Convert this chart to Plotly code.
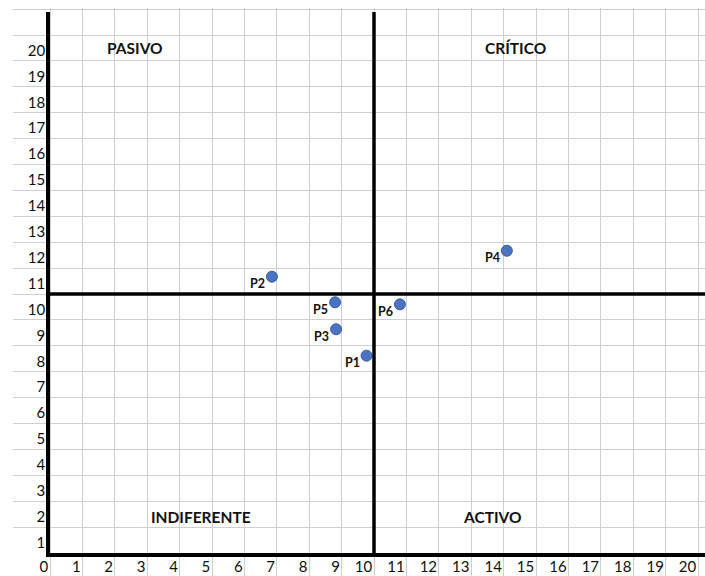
import plotly.graph_objects as go

# ---------------- data ----------------
point_names = ["P1", "P2", "P3", "P4", "P5", "P6"]
x_values = [9.77, 6.85, 8.83, 14.10, 8.80, 10.80]
y_values = [7.62, 10.67, 8.64, 11.67, 9.68, 9.60]

x_tick_values = list(range(0, 21))
y_tick_values = list(range(1, 21))
x_tick_labels = [str(v) for v in x_tick_values]
y_tick_labels = [str(v) for v in y_tick_values]

x_threshold = 10
y_threshold = 10

quadrant_names = ["PASIVO", "CRÍTICO", "INDIFERENTE", "ACTIVO"]
quadrant_label_x = [2.62, 14.38, 4.66, 13.67]
quadrant_label_y = [19.5, 19.5, 1.39, 1.39]

# ---------------- geometry / style ----------------
W, H = 705, 576
AX_LEFT_PX = 50      # pixel x of the vertical axis
AX_BOTTOM_PX = 553   # pixel y (from top) of the horizontal axis
AX_TOP_PX = 12
GRID_LEFT_PX = 13
GRID_TOP_PX = 8
SX = 32.4            # pixels per x unit
SY = 25.9            # pixels per y unit

FONT = "Lato"
GRID_COLOR = "#cfcfcf"
MARKER_COLOR = "#4a73c2"

x_max = (W - AX_LEFT_PX) / SX
y_max = (AX_BOTTOM_PX - AX_TOP_PX) / SY

fig = go.Figure()

# invisible trace to anchor the background grid subplot
fig.add_trace(go.Scatter(x=[None], y=[None], xaxis="x", yaxis="y",
                         showlegend=False, hoverinfo="skip"))

# data points
fig.add_trace(go.Scatter(
    x=x_values, y=y_values, xaxis="x2", yaxis="y2",
    mode="markers", text=point_names, showlegend=False,
    marker=dict(size=11, color=MARKER_COLOR,
                line=dict(color="#3a5e9e", width=1)),
))

# quadrant dividing lines
fig.add_shape(type="line", xref="x2", yref="y2",
              x0=x_threshold, x1=x_threshold, y0=0, y1=y_max,
              line=dict(color="black", width=3.5))
fig.add_shape(type="line", xref="x2", yref="y2",
              x0=0, x1=x_max, y0=y_threshold, y1=y_threshold,
              line=dict(color="black", width=3.5))

annotations = []
for name, qx, qy in zip(quadrant_names, quadrant_label_x, quadrant_label_y):
    annotations.append(dict(
        x=qx, y=qy, xref="x2", yref="y2", text="<b>%s</b>" % name,
        showarrow=False, xanchor="center", yanchor="middle",
        font=dict(family=FONT, size=15.5, color="#111111")))
for name, px, py in zip(point_names, x_values, y_values):
    annotations.append(dict(
        x=px, y=py, xref="x2", yref="y2", text="<b>%s</b>" % name,
        showarrow=False, xanchor="right", yanchor="middle",
        xshift=-5, yshift=-7,
        font=dict(family=FONT, size=12.5, color="#111111")))

fig.update_layout(
    width=W, height=H,
    margin=dict(l=0, r=0, t=0, b=0, pad=0, autoexpand=False),
    paper_bgcolor="white", plot_bgcolor="rgba(0,0,0,0)",
    showlegend=False,
    font=dict(family=FONT, size=15, color="#111111"),
    # background spreadsheet grid
    xaxis=dict(
        domain=[GRID_LEFT_PX / W, 1],
        range=[(GRID_LEFT_PX - AX_LEFT_PX) / SX, x_max],
        tickvals=x_tick_values, showticklabels=False, ticks="",
        showgrid=True, gridcolor=GRID_COLOR, gridwidth=1.3,
        zeroline=False, showline=False, anchor="y", fixedrange=True,
        automargin=False,
    ),
    yaxis=dict(
        domain=[0, (H - GRID_TOP_PX) / H],
        range=[-(H - AX_BOTTOM_PX) / SY, (AX_BOTTOM_PX - GRID_TOP_PX) / SY],
        tickvals=list(range(1, 22)), showticklabels=False, ticks="",
        showgrid=True, gridcolor=GRID_COLOR, gridwidth=1.3,
        zeroline=False, showline=False, anchor="x", fixedrange=True,
        automargin=False,
    ),
    # main chart axes
    xaxis2=dict(
        domain=[AX_LEFT_PX / W, 1],
        range=[0, x_max],
        tickvals=x_tick_values, ticktext=x_tick_labels,
        ticklabelposition="outside left", ticks="",
        ticklabelstandoff=-3,
        tickfont=dict(family=FONT, size=15, color="#111111"),
        showgrid=False, zeroline=False,
        showline=True, linecolor="black", linewidth=3.5,
        anchor="y2", fixedrange=True, automargin=False,
    ),
    yaxis2=dict(
        domain=[(H - AX_BOTTOM_PX) / H, (H - AX_TOP_PX) / H],
        range=[0, y_max],
        tickvals=y_tick_values, ticktext=y_tick_labels,
        ticklabelposition="outside bottom", ticks="",
        ticklabelshift=5, ticklabelstandoff=-2,
        tickfont=dict(family=FONT, size=15, color="#111111"),
        showgrid=False, zeroline=False,
        showline=True, linecolor="black", linewidth=3.5,
        anchor="x2", fixedrange=True, automargin=False,
    ),
    annotations=annotations,
)

fig.write_html(
    "out.html",
    config={"displayModeBar": False},
    post_script="document.body.style.margin='0';document.body.style.overflow='hidden';",
)
